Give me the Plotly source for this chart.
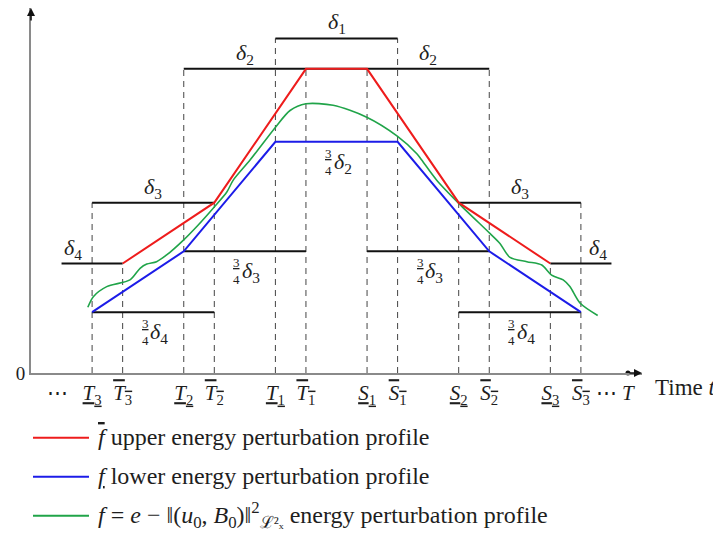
import plotly.graph_objects as go

# ---------------- data (time units t, energy units e) ----------------
tick_t = [2, 3, 5, 6, 8, 9, 11, 12, 14, 15, 17, 18]
tick_sym = ["T", "T", "T", "T", "T", "T", "S", "S", "S", "S", "S", "S"]
tick_idx = ["3", "3", "2", "2", "1", "1", "1", "1", "2", "2", "3", "3"]
tick_bar = ["underline", "overline"] * 6
extra_tick_t = [0.88, 18.85, 19.54]
extra_tick_text = ["⋯", "⋯", "<i>T</i>"]

upper_t = [3, 6, 9, 11, 14, 17]
upper_e = [3.6, 5.6, 10, 10, 5.6, 3.6]
lower_t = [2, 5, 8, 12, 15, 18]
lower_e = [2, 4, 7.6, 7.6, 4, 2]
green_t = [1.86, 2.04, 2.48, 3.24, 3.57, 3.79, 4.11, 4.44, 4.99, 5.42, 6.0, 6.41, 6.62,
           7.17, 8.01, 8.48, 9.0, 9.89, 10.99, 12.0, 12.63, 12.79, 13.28, 14.01, 15.02,
           15.35, 15.68, 16.23, 16.72, 17.04, 17.42, 17.64, 17.97, 18.55]
green_e = [2.16, 2.51, 2.84, 3.06, 3.44, 3.58, 3.66, 3.88, 4.37, 4.81, 5.46, 5.95, 6.34,
           7.0, 8.09, 8.63, 8.85, 8.8, 8.41, 7.78, 7.21, 7.0, 6.34, 5.57, 4.59,
           4.26, 3.8, 3.66, 3.55, 3.22, 3.06, 2.84, 2.3, 1.89]

# threshold level segments
level_e = [11, 10, 5.6, 5.6, 3.6, 3.6, 4, 4, 2, 2]
level_t0 = [8, 5, 2, 14, 1, 17, 5, 11, 2, 14]
level_t1 = [12, 15, 6, 18, 3, 19, 9, 15, 6, 18]

# dashed guide tops (one per tick)
guide_top = [5.6, 3.6, 10, 5.6, 11, 10, 10, 11, 5.6, 10, 3.6, 5.6]

# delta labels (above their level)
delta_t = [10, 7, 13, 4, 16, 1.37, 18.55]
delta_e = [11, 10, 10, 5.6, 5.6, 3.6, 3.6]
delta_idx = ["1", "2", "2", "3", "3", "4", "4"]
# 3/4 delta labels (below their level)
frac_t = [10, 7, 13, 4, 16]
frac_e = [7.6, 4, 4, 2, 2]
frac_idx = ["2", "3", "3", "4", "4"]

legend_text = [
    "<span style='text-decoration:overline'><i>f</i></span> upper energy perturbation profile",
    "<span style='text-decoration:underline'><i>f</i></span> lower energy perturbation profile",
    "<i>f</i> = <i>e</i> − ‖(<i>u</i><sub>0</sub>, <i>B</i><sub>0</sub>)‖<sup>2</sup><sub>ℒ²ₓ</sub> energy perturbation profile",
]
legend_color = ["#ee1c1c", "#1c1ce8", "#20a449"]

# ---------------- layout constants (page has an 8px body margin) ----------------
OFF = 8
FW, FH = 721 - OFF, 533 - OFF
ML, MT = 31 - OFF, 0
PW, PH = 611, 365
MR, MB = FW - ML - PW, FH - MT - PH
XR, YR = [0, 20], [0, 12]
FONT = "Liberation Serif"
INK = "#1e1e1e"


def px_x(p):
    return (p - OFF - ML) / PW


def px_y(p):
    return (MT + PH - (p - OFF)) / PH


fig = go.Figure()

# dashed guides
gx, gy = [], []
for t, top in zip(tick_t, guide_top):
    gx += [t, t, None]
    gy += [0, top, None]
fig.add_trace(go.Scatter(x=gx, y=gy, mode="lines", hoverinfo="skip",
                         line=dict(color="#444444", width=1, dash="6px,5px")))

# level segments
sx, sy = [], []
for a, b, e in zip(level_t0, level_t1, level_e):
    sx += [a, b, None]
    sy += [e, e, None]
fig.add_trace(go.Scatter(x=sx, y=sy, mode="lines", hoverinfo="skip",
                         line=dict(color="#111111", width=2)))

fig.add_trace(go.Scatter(x=green_t, y=green_e, mode="lines",
                         line=dict(color=legend_color[2], width=1.6, shape="spline", smoothing=0.8)))
fig.add_trace(go.Scatter(x=lower_t, y=lower_e, mode="lines",
                         line=dict(color=legend_color[1], width=2)))
fig.add_trace(go.Scatter(x=upper_t, y=upper_e, mode="lines",
                         line=dict(color=legend_color[0], width=2)))
# point T on the axis
fig.add_trace(go.Scatter(x=[extra_tick_t[-1]], y=[0], mode="markers", cliponaxis=False,
                         marker=dict(color="#111111", size=5)))

ticktext = [f"<span style='text-decoration:{d}'><i>{s}</i><sub>{i}</sub></span>"
            for s, i, d in zip(tick_sym, tick_idx, tick_bar)] + extra_tick_text

ann = []
for t, e, i in zip(delta_t, delta_e, delta_idx):
    ann.append(dict(x=t, y=e, text=f"<i>δ</i><sub>{i}</sub>", showarrow=False,
                    yshift=15, font=dict(size=22, family=FONT, color=INK)))
for t, e, i in zip(frac_t, frac_e, frac_idx):
    ann.append(dict(x=t, y=e, text="<span style='text-decoration:underline'>3</span><br>4",
                    showarrow=False, xshift=-8, yshift=-20,
                    font=dict(size=13, family=FONT, color=INK)))
    ann.append(dict(x=t, y=e, text=f"<i>δ</i><sub>{i}</sub>", showarrow=False,
                    xshift=6, yshift=-21, font=dict(size=22, family=FONT, color=INK)))

# axis arrowheads
ann.append(dict(x=XR[1], y=0, ax=-14, ay=0, text="", showarrow=True, arrowhead=2,
                arrowsize=1, arrowwidth=1.6, arrowcolor="#111"))
ann.append(dict(x=XR[0], y=YR[1], ax=0, ay=14, text="", showarrow=True, arrowhead=2,
                arrowsize=1, arrowwidth=1.6, arrowcolor="#111"))
# axis title
ann.append(dict(xref="paper", yref="paper", x=px_x(653), y=px_y(387), xanchor="left",
                yanchor="middle", text="Time <i>t</i>", showarrow=False,
                font=dict(size=23, family=FONT, color=INK)))

# legend (drawn manually)
shapes = []
leg_y = [437.7, 476.7, 515.7]
for txt, col, yy in zip(legend_text, legend_color, leg_y):
    shapes.append(dict(type="line", xref="paper", yref="paper", x0=px_x(33), x1=px_x(89),
                       y0=px_y(yy), y1=px_y(yy), line=dict(color=col, width=2)))
    ann.append(dict(xref="paper", yref="paper", x=px_x(96), y=px_y(yy - 1), xanchor="left",
                    yanchor="middle", text=txt, showarrow=False,
                    font=dict(size=24, family=FONT, color=INK)))

fig.update_layout(
    width=FW, height=FH, margin=dict(l=ML, r=MR, t=MT, b=MB, autoexpand=False),
    paper_bgcolor="white", plot_bgcolor="white", showlegend=False,
    annotations=ann, shapes=shapes,
    xaxis=dict(range=XR, showgrid=False, zeroline=False, showline=True, linecolor="#8a8a8a",
               linewidth=2, ticks="", tickvals=tick_t + extra_tick_t, ticktext=ticktext,
               tickfont=dict(size=21, family=FONT, color=INK), automargin=False),
    yaxis=dict(range=YR, showgrid=False, zeroline=False, showline=True, linecolor="#8a8a8a",
               linewidth=2, ticks="", tickvals=[0], ticktext=["0"],
               tickfont=dict(size=19, family=FONT, color=INK), automargin=False),
)

fig.write_html("out.html")
